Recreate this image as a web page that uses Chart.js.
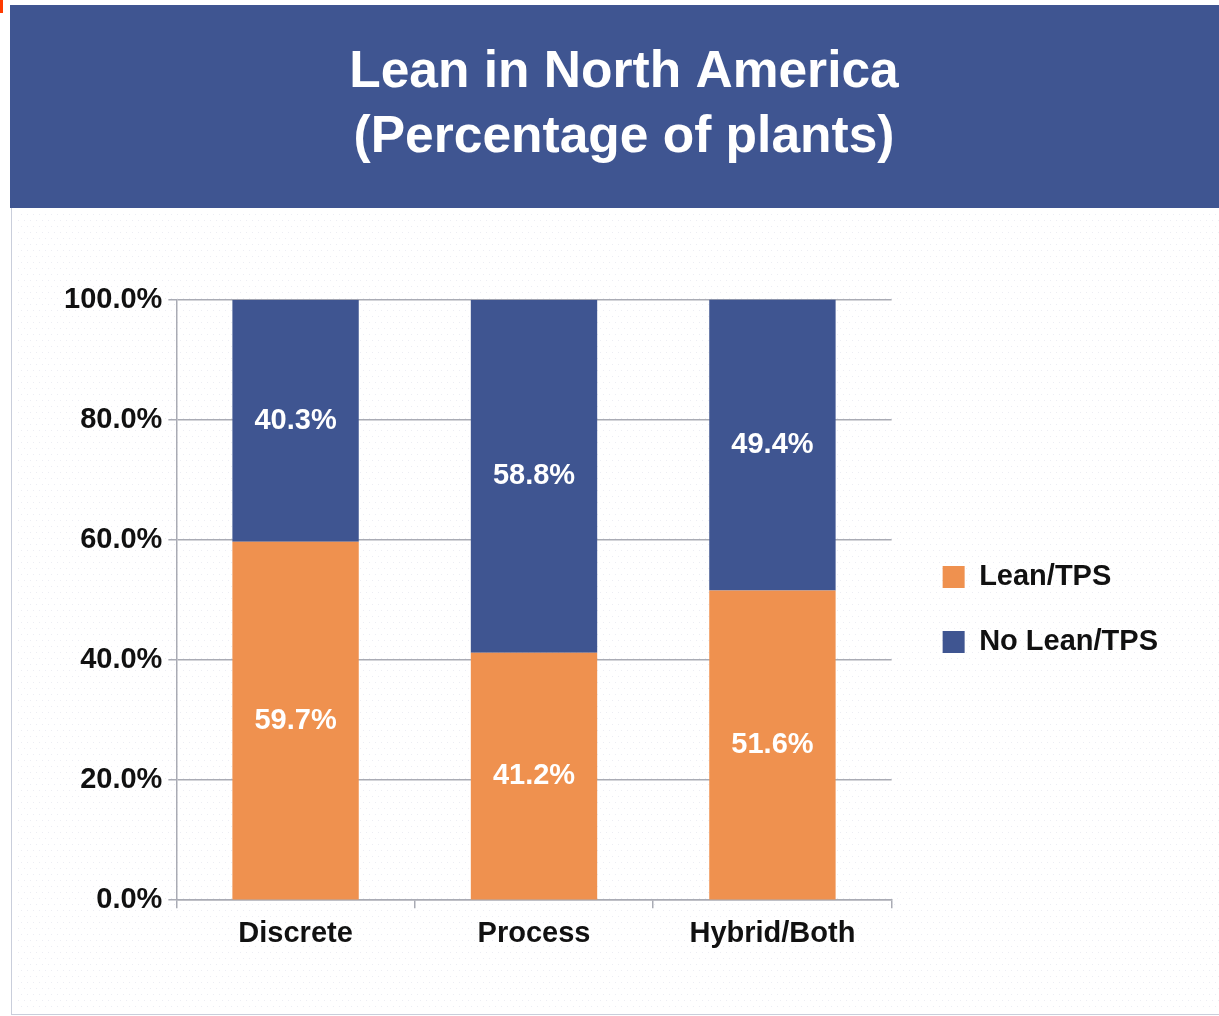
<!DOCTYPE html>
<html>
<head>
<meta charset="utf-8">
<script src="https://cdn.jsdelivr.net/npm/chart.js@4/dist/chart.umd.min.js"></script>
<style>
  html, body { margin: 0; padding: 0; background: #ffffff; }
  #wrap { width: 1219px; height: 1016px; position: relative; }
</style>
</head>
<body>
<div id="wrap"><canvas id="c" width="1219" height="1016"></canvas></div>
<script>
const categories = ['Discrete', 'Process', 'Hybrid/Both'];
const leanValues = [59.7, 41.2, 51.6];
const noLeanValues = [40.3, 58.8, 49.4];
const seriesNames = ['Lean/TPS', 'No Lean/TPS'];
const yTicks = [0, 20, 40, 60, 80, 100];
const titleLines = ['Lean in North America', '(Percentage of plants)'];

const ORANGE = '#EF914F';
const BLUE = '#3F5591';
const GRID = '#a9abb4';
const FONT = '"Liberation Sans", Arial, sans-serif';

const framePlugin = {
  id: 'frame',
  afterLayout(chart) {
    const L = chart.legend;
    if (L) {
      L.left += 15; L.right += 15;
      L.top += 130; L.bottom += 130;
    }
    const T = chart.titleBlock;
    if (T) {
      T.left += 18.5; T.right += 18.5;
    }
  },
  beforeDraw(chart) {
    const ctx = chart.ctx;
    ctx.save();
    ctx.fillStyle = '#ffffff';
    ctx.fillRect(0, 0, chart.width, chart.height);
    // faint dotted background
    ctx.fillStyle = 'rgba(200,204,220,0.35)';
    for (let y = 214; y < 1012; y += 6) {
      for (let x = 16 + ((y / 6) % 2) * 3; x < 1219; x += 6) {
        ctx.fillRect(x, y, 1, 1);
      }
    }
    // banner
    ctx.fillStyle = BLUE;
    ctx.fillRect(10, 5, 1209, 203);
    ctx.strokeStyle = '#c9cedb';
    ctx.lineWidth = 1;
    ctx.beginPath();
    ctx.moveTo(11.5, 208); ctx.lineTo(11.5, 1014);
    ctx.moveTo(11, 1014.5); ctx.lineTo(1219, 1014.5);
    ctx.stroke();
    ctx.fillStyle = '#ff3b00';
    ctx.fillRect(0, 0, 3, 13);
    ctx.restore();
  }
};

const labelPlugin = {
  id: 'barLabels',
  afterDatasetsDraw(chart) {
    const ctx = chart.ctx;
    ctx.save();
    ctx.fillStyle = '#ffffff';
    ctx.font = 'bold 29px ' + FONT;
    ctx.textAlign = 'center';
    ctx.textBaseline = 'middle';
    chart.data.datasets.forEach((ds, di) => {
      const meta = chart.getDatasetMeta(di);
      meta.data.forEach((bar, i) => {
        const top = Math.max(bar.y, chart.chartArea.top);
        const cy = (top + bar.base) / 2;
        ctx.fillText(ds.data[i].toFixed(1) + '%', bar.x, cy);
      });
    });
    ctx.restore();
  }
};

new Chart(document.getElementById('c'), {
  type: 'bar',
  data: {
    labels: categories,
    datasets: [
      { label: seriesNames[0], data: leanValues, backgroundColor: ORANGE, borderWidth: 0 },
      { label: seriesNames[1], data: noLeanValues, backgroundColor: BLUE, borderWidth: 0 }
    ]
  },
  plugins: [framePlugin, labelPlugin],
  options: {
    responsive: false,
    animation: false,
    devicePixelRatio: 1,
    layout: { padding: { left: 58, right: 66, top: 0, bottom: 57 } },
    datasets: { bar: { categoryPercentage: 1.0, barPercentage: 0.53 } },
    plugins: {
      title: {
        display: true,
        text: titleLines,
        color: '#ffffff',
        font: { family: FONT, size: 51.5, weight: 'bold', lineHeight: 1.26 },
        padding: { top: 40, bottom: 130 }
      },
      legend: {
        display: true,
        position: 'right',
        align: 'center',
        labels: {
          color: '#111111',
          font: { family: FONT, size: 29, weight: 'bold' },
          boxWidth: 22,
          boxHeight: 22,
          padding: 36
        }
      },
      tooltip: { enabled: false }
    },
    scales: {
      x: {
        stacked: true,
        offset: true,
        grid: {
          offset: true,
          drawOnChartArea: true,
          color: (c) => (c.index === categories.length ? GRID : 'rgba(0,0,0,0)'),
          tickColor: GRID,
          tickLength: 8,
          lineWidth: 1.5
        },
        border: { display: true, color: GRID, width: 1.5 },
        ticks: {
          color: '#111111',
          font: { family: FONT, size: 29, weight: 'bold' },
          padding: 8
        }
      },
      y: {
        stacked: true,
        min: 0,
        max: 100,
        afterBuildTicks: (axis) => { axis.ticks = yTicks.map(v => ({ value: v })); },
        grid: { color: GRID, tickColor: GRID, tickLength: 8, lineWidth: 1.5 },
        border: { display: true, color: GRID, width: 1.5 },
        ticks: {
          color: '#111111',
          font: { family: FONT, size: 29, weight: 'bold' },
          padding: 6,
          callback: (v) => Number(v).toFixed(1) + '%'
        }
      }
    }
  }
});
</script>
</body>
</html>
